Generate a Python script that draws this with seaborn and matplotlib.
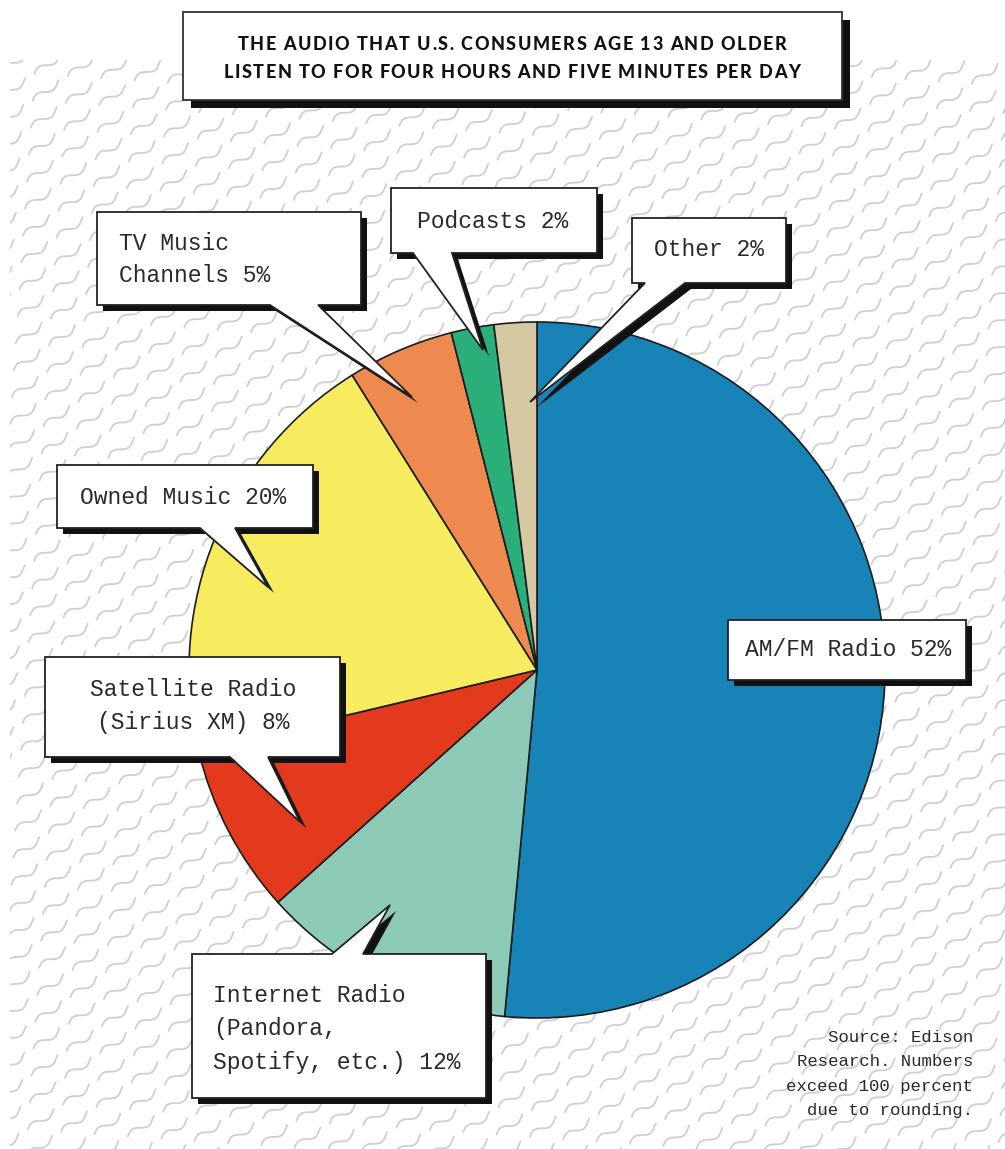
import numpy as np
import matplotlib
matplotlib.use("Agg")
import matplotlib.pyplot as plt
from matplotlib.patches import Polygon, Rectangle
from matplotlib.font_manager import FontProperties
import seaborn as sns

# ---------------- data ----------------
categories = ["AM/FM Radio", "Internet Radio", "Satellite Radio", "Owned Music",
              "TV Music Channels", "Podcasts", "Other"]
shares = [52, 12, 8, 20, 5, 2, 2]
colors = ["#1783b7", "#8ccab7", "#e3391c", "#f7eb5f", "#ee8a4f", "#2aae7a", "#d5c9a3"]

# callout text lines (label, percent appended to last line)
label_lines = [
    ["AM/FM Radio"],
    ["Internet Radio", "(Pandora,", "Spotify, etc.)"],
    ["Satellite Radio", "(Sirius XM)"],
    ["Owned Music"],
    ["TV Music", "Channels"],
    ["Podcasts"],
    ["Other"],
]
title_lines = ["THE AUDIO THAT U.S. CONSUMERS AGE 13 AND OLDER",
               "LISTEN TO FOR FOUR HOURS AND FIVE MINUTES PER DAY"]
source_lines = ["Source: Edison", "Research. Numbers", "exceed 100 percent", "due to rounding."]

# ---------------- layout (pixel coords, y down) ----------------
W, H = 1005, 1149
sns.set_theme(style="white")
plt.rcParams["font.family"] = ["Liberation Mono", "DejaVu Sans Mono"]

fig = plt.figure(figsize=(W / 100, H / 100), dpi=100)
ax = fig.add_axes([0, 0, 1, 1])
fig.patch.set_facecolor("white")

def Y(y):
    return H - y

# wavy background pattern (decoration)
theta = np.deg2rad(35)
d = np.array([np.cos(theta), np.sin(theta)])
n = np.array([-np.sin(theta), np.cos(theta)])
spacing, seg, gap, amp, wl = 21.0, 33.0, 10.0, 3.2, 30.0
clip = Rectangle((10, 0), W - 10, Y(60), transform=ax.transData)
t = np.linspace(0, seg, 30)
for k in range(-80, 80):
    base = k * spacing * n
    shift = (k * 17.0) % (seg + gap)
    for s in np.arange(-1600 + shift, 1600, seg + gap):
        pts = base[None, :] + (s + t)[:, None] * d[None, :] + (amp * np.sin(2 * np.pi * t / wl))[:, None] * n[None, :]
        xs, ys = pts[:, 0], pts[:, 1]
        if xs.max() < 0 or xs.min() > W or ys.max() < 0 or ys.min() > H:
            continue
        ln, = ax.plot(xs, ys, color="#cfcfcf", lw=1.3, solid_capstyle="round", zorder=0)
        ln.set_clip_path(clip)

# pie
center = (537, Y(670))
ax.pie(shares, colors=sns.color_palette(colors), startangle=90, counterclock=False,
       center=center, radius=348,
       wedgeprops=dict(edgecolor="#1c1c1c", linewidth=1.2, zorder=2))

ax.set_xlim(0, W)
ax.set_ylim(0, H)
ax.set_aspect("equal")
ax.axis("off")

callouts = [
    dict(box=(728, 620, 966, 680), ptr=None, tx=745, ty=[650], ha="left"),
    dict(box=(192, 954, 486, 1098), ptr=("top", 332, 363, (390, 905)), tx=213, ty=[996, 1029, 1062], ha="left"),
    dict(box=(45, 657, 340, 757), ptr=("bottom", 230, 268, (300, 822)), tx=193, ty=[690, 722], ha="center"),
    dict(box=(57, 465, 313, 528), ptr=("bottom", 200, 235, (268, 587)), tx=80, ty=[497], ha="left"),
    dict(box=(97, 212, 361, 305), ptr=("bottom", 270, 318, (412, 397)), tx=119, ty=[243, 276], ha="left"),
    dict(box=(391, 188, 597, 253), ptr=("bottom", 413, 452, (483, 350)), tx=417, ty=[221], ha="left"),
    dict(box=(632, 218, 786, 283), ptr=("bottom", 645, 685, (530, 402)), tx=654, ty=[250], ha="left"),
]

def shape(box, ptr):
    x0, y0, x1, y1 = box
    if ptr is None:
        pts = [(x0, y0), (x1, y0), (x1, y1), (x0, y1)]
    elif ptr[0] == "bottom":
        _, b0, b1, tip = ptr
        pts = [(x0, y0), (x1, y0), (x1, y1), (b1, y1), tip, (b0, y1), (x0, y1)]
    else:
        _, b0, b1, tip = ptr
        pts = [(x0, y0), (b0, y0), tip, (b1, y0), (x1, y0), (x1, y1), (x0, y1)]
    return [(x, Y(y)) for x, y in pts]

fs = 16.6
for i, c in enumerate(callouts):
    pts = shape(c["box"], c["ptr"])
    sh = [(x + 6, y - 6) for x, y in pts]
    ax.add_patch(Polygon(sh, closed=True, facecolor="#111111", edgecolor="none", zorder=5))
    ax.add_patch(Polygon(pts, closed=True, facecolor="white", edgecolor="#222222", lw=1.3,
                         joinstyle="miter", zorder=6))
    lines = list(label_lines[i])
    lines[-1] = f"{lines[-1]} {shares[i]}%"
    for line, yy in zip(lines, c["ty"]):
        ax.text(c["tx"], Y(yy), line, fontsize=fs, color="#2a2a2a", ha=c["ha"],
                va="center", zorder=7)

# title box
tb = (183, 12, 842, 100)
ax.add_patch(Rectangle((tb[0] + 8, Y(tb[3]) - 8), tb[2] - tb[0], tb[3] - tb[1],
                       facecolor="#111111", edgecolor="none", zorder=5))
ax.add_patch(Rectangle((tb[0], Y(tb[3])), tb[2] - tb[0], tb[3] - tb[1],
                       facecolor="white", edgecolor="#333333", lw=1.3, zorder=6))

# letter-spaced title
renderer = fig.canvas.get_renderer()
tprop = FontProperties(family="Lato", weight="black", size=13)
def wpx(s):
    if not s:
        return 0.0
    w, _, _ = renderer.get_text_width_height_descent(s, tprop, ismath=False)
    return w
wH = wpx("H")
for line, yy, target in zip(title_lines, [44, 72], [549, 576]):
    xs_rel = [wpx(line[:j] + "H") - wH for j in range(len(line))]
    natural = wpx(line)
    track = (target - natural) / (len(line) - 1)
    total = natural + track * (len(line) - 1)
    x0 = 512 - total / 2
    for j, ch in enumerate(line):
        if ch == " ":
            continue
        ax.text(x0 + xs_rel[j] + j * track, Y(yy), ch, fontproperties=tprop,
                color="#111111", ha="left", va="center", zorder=7)

# source note
for line, yy in zip(source_lines, [1038, 1062, 1086, 1110]):
    ax.text(973, Y(yy), line, fontsize=12.5, color="#2a2a2a", ha="right", va="center", zorder=7)

fig.savefig("out.png", dpi=100, facecolor="white")
